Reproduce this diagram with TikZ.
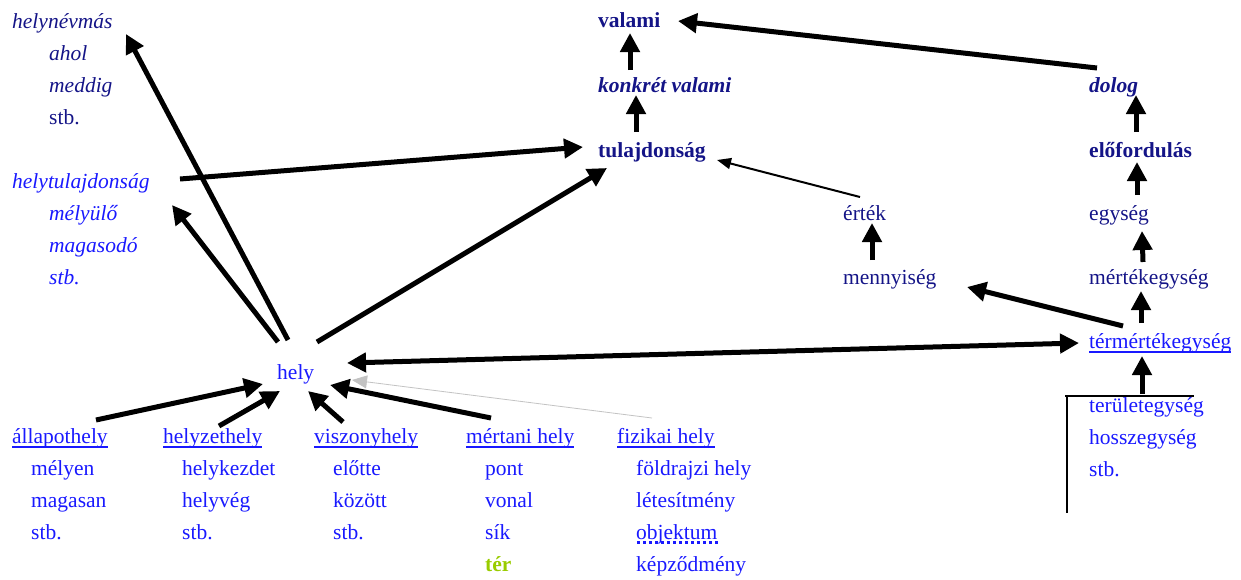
\documentclass[tikz,border=0pt]{standalone}
\usepackage{fontspec}
\setmainfont{Liberation Serif}
\usetikzlibrary{arrows.meta,calc}
\definecolor{navy}{RGB}{20,20,135}
\definecolor{lblue}{RGB}{25,25,255}
\definecolor{tergreen}{RGB}{153,204,0}
\definecolor{lgray}{RGB}{195,195,195}
\begin{document}
\begin{tikzpicture}[x=1pt,y=-1pt,
  t/.style={anchor=west, inner sep=0pt, text height=15pt, text depth=5pt, font=\fontsize{21.5}{25}\selectfont},
  nv/.style={t, text=navy},
  bl/.style={t, text=lblue},
  arr/.style={line width=5pt, -{Triangle[length=19pt,width=19pt]}},
  darr/.style={line width=5pt, {Triangle[length=19pt,width=19pt]}-{Triangle[length=19pt,width=19pt]}},
  thinarr/.style={line width=2pt, -{Triangle[length=14pt,width=11pt]}},
  grayarr/.style={line width=0.8pt, draw=lgray, -{Triangle[length=15pt,width=13pt]}},
  ulc/.style={draw=lblue, line width=1.3pt},
  brk/.style={line width=2pt}
]
\useasboundingbox (0,0) rectangle (1241,579);

% top-left lists
\node[nv] (hnm) at (12,23) {\itshape helynévmás};
\node[nv] (ahol) at (49,55) {\itshape ahol};
\node[nv] (meddig) at (49,87) {\itshape meddig};
\node[nv] (stba) at (49,119) {stb.};
\node[bl] (htul) at (12,183) {\itshape helytulajdonság};
\node[bl] (melyulo) at (49,215) {\itshape mélyülő};
\node[bl] (magasodo) at (49,247) {\itshape magasodó};
\node[bl] (stbb) at (49,279) {\itshape stb.};

% hely
\node[bl] (hely) at (277,374) {hely};

% bottom lists
\node[bl] (allapot) at (12,438) {állapothely};
\node[bl] (melyen) at (31,470) {mélyen};
\node[bl] (magasan) at (31,502) {magasan};
\node[bl] (stbc) at (31,534) {stb.};

\node[bl] (helyzet) at (163,438) {helyzethely};
\node[bl] (helykezdet) at (182,470) {helykezdet};
\node[bl] (helyveg) at (182,502) {helyvég};
\node[bl] (stbd) at (182,534) {stb.};

\node[bl] (viszony) at (314,438) {viszonyhely};
\node[bl] (elotte) at (333,470) {előtte};
\node[bl] (kozott) at (333,502) {között};
\node[bl] (stbe) at (333,534) {stb.};

\node[bl] (mertani) at (466,438) {mértani hely};
\node[bl] (pont) at (485,470) {pont};
\node[bl] (vonal) at (485,502) {vonal};
\node[bl] (sik) at (485,534) {sík};
\node[t, text=tergreen] (ter) at (485,566) {\bfseries tér};

\node[bl] (fizikai) at (617,438) {fizikai hely};
\node[bl] (foldrajzi) at (636,470) {földrajzi hely};
\node[bl] (letesitmeny) at (636,502) {létesítmény};
\node[bl] (objektum) at (636,534) {objektum};
\node[bl] (kepzodmeny) at (636,566) {képződmény};

% middle column
\node[nv] (valami) at (598,22) {\bfseries valami};
\node[nv] (konkret) at (598,87) {\bfseries\itshape konkrét valami};
\node[nv] (tulajdonsag) at (598,152) {\bfseries tulajdonság};

% right columns
\node[nv] (dolog) at (1089,87) {\bfseries\itshape dolog};
\node[nv] (elofordulas) at (1089,152) {\bfseries előfordulás};
\node[nv] (egyseg) at (1089,215) {egység};
\node[nv] (mertekegyseg) at (1089,279) {mértékegység};
\node[bl] (termertek) at (1089,343) {térmértékegység};
\node[bl] (terulet) at (1089,407) {területegység};
\node[bl] (hossz) at (1089,439) {hosszegység};
\node[bl] (stbf) at (1089,471) {stb.};

\node[nv] (ertek) at (843,215) {érték};
\node[nv] (mennyiseg) at (843,279) {mennyiség};

% underlines
\foreach \n in {allapot,helyzet,viszony,mertani,fizikai,termertek}
  \draw[ulc] ($(\n.west)+(0,9)$) -- ($(\n.east)+(0,9)$);
\draw[draw=lblue, line width=3pt, dash pattern=on 3pt off 3pt]
  ($(objektum.west)+(1,8.5)$) -- ($(objektum.east)+(0,8.5)$);

% bracket
\draw[brk] ($(terulet.west)+(-24,-11)$) -- ($(terulet.west)+(105,-11)$);
\draw[brk] ($(terulet.west)+(-22,-11)$) -- ($(terulet.west)+(-22,106)$);

% arrows
\draw[arr] ($(hely.west)+(11,-34)$) -- ($(hnm.west)+(114,11)$);
\draw[arr] ($(hely.west)+(1,-32)$) -- ($(htul.west)+(160,22)$);
\draw[arr] ($(htul.west)+(168,-4)$) -- ($(tulajdonsag.west)+(-15,-5)$);
\draw[arr] ($(hely.west)+(40,-32)$) -- ($(tulajdonsag.west)+(9,16)$);
\draw[arr] ($(konkret.west)+(32,-17)$) -- ($(valami.west)+(32,11)$);
\draw[arr] ($(tulajdonsag.west)+(38,-20)$) -- ($(konkret.west)+(38,8)$);
\draw[arr] ($(dolog.west)+(8,-19)$) -- ($(valami.west)+(80,-1)$);
\draw[arr] ($(elofordulas.west)+(47,-20)$) -- ($(dolog.west)+(47,8)$);
\draw[arr] ($(egyseg.west)+(48,-20)$) -- ($(elofordulas.west)+(48,10)$);
\draw[arr] ($(mertekegyseg.west)+(54,-17)$) -- ($(egyseg.west)+(53,16)$);
\draw[arr] ($(termertek.west)+(52,-20)$) -- ($(mertekegyseg.west)+(52,12)$);
\draw[arr] ($(terulet.west)+(53,-13)$) -- ($(termertek.west)+(53,13)$);
\draw[arr] ($(mennyiseg.west)+(29,-19)$) -- ($(ertek.west)+(29,8)$);
\draw[thinarr] ($(ertek.west)+(17,-18)$) -- ($(tulajdonsag.west)+(119,8)$);
\draw[arr] ($(termertek.west)+(34,-17)$) -- ($(mennyiseg.west)+(124,8)$);
\draw[darr] ($(hely.west)+(70,-11)$) -- ($(termertek.west)+(-10,0)$);
\draw[arr] ($(allapot.west)+(84,-18)$) -- ($(hely.west)+(-14,10)$);
\draw[arr] ($(helyzet.west)+(56,-12)$) -- ($(hely.west)+(3,17)$);
\draw[arr] ($(viszony.west)+(29,-16)$) -- ($(hely.west)+(31,17)$);
\draw[arr] ($(mertani.west)+(25,-20)$) -- ($(hely.west)+(53,11)$);
\draw[grayarr] ($(fizikai.west)+(35,-20)$) -- ($(hely.west)+(75,6)$);
\end{tikzpicture}
\end{document}
